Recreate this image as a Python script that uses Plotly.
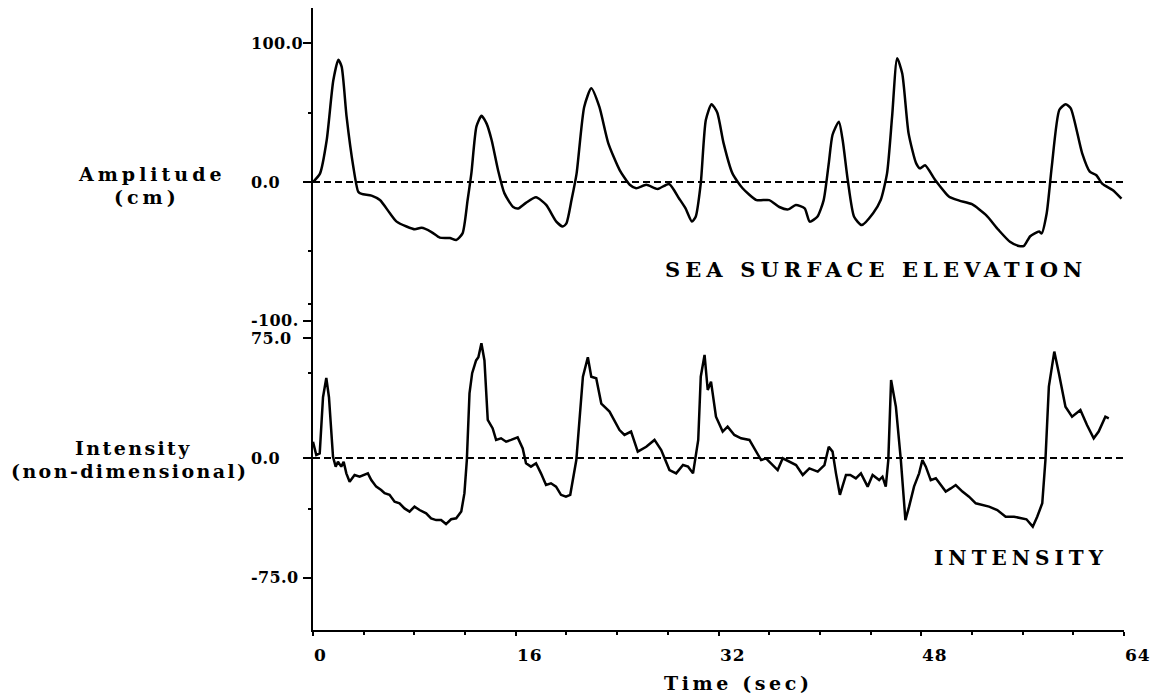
import plotly.graph_objects as go

# ---------------- data ----------------
t_sea = [0.0, 0.55, 1.08, 1.6, 2.0, 2.26, 2.65, 3.18, 3.57, 3.84, 4.62, 5.28, 6.07, 6.6, 7.38, 8.04,
         8.56, 9.35, 10.0, 10.8, 11.3, 11.8, 12.2, 12.5, 12.9, 13.3, 13.7, 14.1, 14.6, 15.1, 15.8,
         16.2, 16.8, 17.6, 18.4, 19.2, 19.7, 20.0, 20.4, 20.8, 21.4, 21.96, 22.6, 23.3, 24.2, 25.0,
         25.5, 26.3, 27.2, 28.1, 28.9, 29.4, 29.9, 30.2, 30.6, 31.0, 31.45, 31.9, 32.4, 33.1, 33.9,
         35.0, 36.0, 36.8, 37.5, 38.1, 38.8, 39.2, 39.8, 40.3, 40.7, 41.0, 41.5, 41.8, 42.2, 42.7,
         43.3, 44.2, 44.8, 45.3, 45.7, 46.1, 46.5, 47.0, 47.6, 47.9, 48.3, 49.1, 50.2, 51.0, 52.0,
         53.1, 54.1, 55.0, 55.7, 56.1, 56.6, 57.3, 57.5, 57.9, 58.3, 58.9, 59.4, 59.8, 60.7, 61.3,
         61.8, 62.3, 63.1, 63.8]
v_sea = [0, 6, 30, 73, 88, 83, 47, 11, -7, -8.6, -9.8, -13, -22.5, -28.5, -32, -34,
         -33, -36, -40, -40.3, -41.7, -37, -13, 6.4, 40, 47.7, 42, 30, 8.6, -8, -18,
         -19, -15, -11, -16.5, -28.5, -32, -29.7, -13, 6, 54, 67.4, 54, 28, 8.6, -2,
         -4.5, -2, -5, -1.4, -12, -19, -28.5, -25, -1, 44.6, 56, 50, 28, 6.2, -4.5,
         -13, -13, -18, -19.7, -16.5, -19, -28.5, -25, -13, 13.4, 34, 43.4, 30, 1.4, -25,
         -31, -22.5, -13, 6.2, 47, 89, 78, 35, 13.4, 9.8, 12, 1.4, -10.6, -13.4, -16,
         -23.7, -34.5, -43, -46, -46, -39, -35.7, -37, -22.5, 11, 52, 56, 53, 20.6, 7.4,
         5, -1.4, -5.8, -12]

t_int = [0.0, 0.26, 0.53, 0.79, 1.05, 1.26, 1.58, 1.79, 1.97, 2.23,
         2.42, 2.63, 2.89, 3.28, 3.68, 4.07, 4.33, 4.6, 4.99, 5.38,
         5.65, 6.04, 6.44, 6.83, 7.22, 7.62, 8.01, 8.41, 8.93, 9.32,
         9.72, 10.11, 10.5, 10.9, 11.3, 11.7, 11.95, 12.14, 12.35, 12.56,
         12.87, 13.05, 13.29, 13.53, 13.79, 14.18, 14.45, 14.84, 15.24, 15.63,
         16.15, 16.55, 16.81, 17.2, 17.6, 17.99, 18.39, 18.78, 19.18, 19.57,
         19.96, 20.3, 20.78, 21.3, 21.69, 21.96, 22.35, 22.75, 23.4, 24.19,
         24.58, 25.1, 25.63, 26.3, 26.95, 27.48, 28.13, 28.66, 29.2, 29.6,
         29.99, 30.4, 30.6, 30.9, 31.15, 31.41, 31.8, 32.33, 32.72, 33.25,
         33.78, 34.44, 34.96, 35.36, 35.75, 36.15, 36.67, 37.07, 37.6, 38.12,
         38.65, 39.17, 39.83, 40.36, 40.7, 41.0, 41.27, 41.58, 42.06, 42.4,
         42.84, 43.24, 43.77, 44.16, 44.68, 44.94, 45.2, 45.4, 45.62, 46.0,
         46.39, 46.75, 47.04, 47.43, 47.83, 48.09, 48.36, 48.75, 49.15, 49.54,
         49.93, 50.33, 50.72, 51.25, 51.77, 52.3, 52.82, 53.35, 54.0, 54.66,
         55.32, 55.84, 56.3, 56.8, 57.15, 57.55, 57.8, 58.07, 58.5, 58.86,
         59.38, 59.9, 60.56, 61.08, 61.61, 62.0, 62.53, 62.8]
v_int = [10.2, 1.9, 2.9, 38, 50, 38, 0.8, -5.4, -2.3, -5.4,
         -2.3, -9.6, -14.8, -10.6, -11.7, -10.6, -9.6, -13.8, -17.9, -20,
         -22, -23, -27.3, -28.3, -31.5, -33.5, -30.4, -32.5, -34.6, -37.7,
         -38.8, -38.8, -41.3, -38.3, -37.7, -33.5, -22, -1.3, 40.4, 53,
         61, 63, 71.7, 61, 23.8, 18.5, 11.3, 12.3, 10.2, 11.3,
         12.9, 6, -3.3, -5.4, -3.3, -9.6, -16.9, -15.8, -17.9, -23,
         -24.2, -23, -1.3, 50.8, 63, 50.8, 49.8, 34, 29, 17.5,
         14.4, 16.5, 4, 7, 11.3, 5, -7.5, -9.6, -4.4, -5.4,
         -9.6, 11.3, 50.8, 64.4, 42.5, 47.7, 25.8, 16.5, 19.6, 14.4,
         12.3, 11.3, 4, -1.3, -0.2, -3.3, -7.5, -0.2, -2.3, -4.4,
         -10.6, -6.5, -8.5, -4.4, 7, 4, -9.6, -23, -10.6, -10.6,
         -12.7, -9.6, -17.9, -10.6, -13.8, -11.7, -17.9, -1.3, 48.8, 32,
         -1.3, -38.8, -30.4, -17.9, -9.6, -1.3, -5.4, -13.8, -12.7, -16.9,
         -21, -19, -16.9, -21, -24.2, -28.3, -29.4, -30.4, -32.5, -36.7,
         -36.7, -37.7, -38.3, -42.9, -36.7, -28.3, -1.3, 44.6, 66.5, 53,
         32, 25.8, 30, 20.6, 12.3, 16.5, 25.8, 24.8]

time_ticks = [0, 16, 32, 48, 64]
sea_ticks = [100, 0, -100]
sea_tick_text = ["100.0", "0.0", "-100."]
int_ticks = [75, 0, -75]
int_tick_text = ["75.0", "0.0", "-75.0"]
zero_line_t = [0, 64]
zero_line_v = [0, 0]

FONT = "DejaVu Serif"


def bold_spaced(text, sp):
    return '<b><span style="letter-spacing:%spx">%s</span></b>' % (sp, text)


fig = go.Figure()

# top panel (sea surface elevation)
fig.add_trace(go.Scatter(x=t_sea, y=v_sea, mode="lines",
                         line=dict(color="black", width=2.5, shape="spline", smoothing=0.6),
                         xaxis="x2", yaxis="y2", showlegend=False, hoverinfo="skip"))
fig.add_trace(go.Scatter(x=zero_line_t, y=zero_line_v, mode="lines",
                         line=dict(color="black", width=1.8, dash="7px,4px"),
                         xaxis="x2", yaxis="y2", showlegend=False, hoverinfo="skip"))
# bottom panel (intensity)
fig.add_trace(go.Scatter(x=t_int, y=v_int, mode="lines", line=dict(color="black", width=2.5),
                         xaxis="x", yaxis="y", showlegend=False, hoverinfo="skip"))
fig.add_trace(go.Scatter(x=zero_line_t, y=zero_line_v, mode="lines",
                         line=dict(color="black", width=1.8, dash="7px,4px"),
                         xaxis="x", yaxis="y", showlegend=False, hoverinfo="skip"))

split = 0.4823

fig.update_layout(
    width=1163, height=696,
    margin=dict(l=313, r=39, t=8, b=66),
    paper_bgcolor="white", plot_bgcolor="white",
    font=dict(family=FONT, color="black"),
    xaxis=dict(domain=[0, 1], range=[0, 64], showline=True, linewidth=2.2, linecolor="black",
               showgrid=False, zeroline=False, ticks="outside", ticklen=4, tickwidth=2,
               tickcolor="black", tickvals=time_ticks, showticklabels=False,
               minor=dict(ticks="outside", ticklen=3, tickwidth=1.5, tickcolor="black", dtick=4)),
    xaxis2=dict(domain=[0, 1], range=[0, 64], anchor="y2", visible=False, matches="x"),
    yaxis=dict(domain=[0, split], range=[-107.5, 80], showline=True, linewidth=2.2,
               linecolor="black", showgrid=False, zeroline=False, ticks="outside", ticklen=8,
               tickwidth=1.5, tickcolor="black", tickvals=int_ticks, showticklabels=False,
               minor=dict(ticks="outside", ticklen=3, tickwidth=1.5, tickcolor="black",
                          tickvals=[53, -32])),
    yaxis2=dict(domain=[split, 1], range=[-106.5, 125.2], anchor="x2", showline=True,
                linewidth=2.2, linecolor="black", showgrid=False, zeroline=False,
                ticks="outside", ticklen=8, tickwidth=1.5, tickcolor="black",
                tickvals=sea_ticks, showticklabels=False,
                minor=dict(ticks="outside", ticklen=3, tickwidth=1.5, tickcolor="black",
                           tickvals=[50, -50, -87.5])),
)

ann = []
tick_font = dict(family=FONT, size=16, color="black")
for v, s in zip(sea_ticks, sea_tick_text):
    ann.append(dict(x=0, xref="paper", xanchor="left", xshift=-64, y=v, yref="y2",
                    yanchor="middle", text=bold_spaced(s, 0.4), showarrow=False,
                    font=tick_font))
for v, s in zip(int_ticks, int_tick_text):
    ann.append(dict(x=0, xref="paper", xanchor="left", xshift=-64, y=v, yref="y",
                    yanchor="middle", text=bold_spaced(s, 0.4), showarrow=False,
                    font=tick_font))
for v in time_ticks:
    ann.append(dict(x=v, xref="x", xanchor="left", xshift=-1, y=0, yref="paper",
                    yanchor="middle", yshift=-25, text=bold_spaced(str(v), 0.8),
                    showarrow=False, font=dict(family=FONT, size=17, color="black")))

lab_font = dict(family=FONT, size=19, color="black")
ann += [
    dict(x=0, xref="paper", xshift=-161, xanchor="center", y=6, yref="y2", yanchor="middle",
         text=bold_spaced("Amplitude", 4), showarrow=False, font=lab_font),
    dict(x=0, xref="paper", xshift=-166, xanchor="center", y=-10.5, yref="y2", yanchor="middle",
         text=bold_spaced("(cm)", 4), showarrow=False, font=lab_font),
    dict(x=0, xref="paper", xshift=-180, xanchor="center", y=6, yref="y", yanchor="middle",
         text=bold_spaced("Intensity", 2.4), showarrow=False, font=lab_font),
    dict(x=0, xref="paper", xshift=-184, xanchor="center", y=-8, yref="y", yanchor="middle",
         text=bold_spaced("(non-dimensional)", 2.4), showarrow=False, font=lab_font),
    dict(x=44.4, xref="x2", xanchor="center", y=-63.3, yref="y2", yanchor="middle",
         text=bold_spaced("SEA SURFACE ELEVATION", 5.1), showarrow=False,
         font=dict(family=FONT, size=21, color="black")),
    dict(x=55.9, xref="x", xanchor="center", y=-62.5, yref="y", yanchor="middle",
         text=bold_spaced("INTENSITY", 5), showarrow=False,
         font=dict(family=FONT, size=20, color="black")),
    dict(x=33.6, xref="x", xanchor="center", y=0, yref="paper", yanchor="middle", yshift=-53,
         text=bold_spaced("Time (sec)", 3.6), showarrow=False,
         font=dict(family=FONT, size=19, color="black")),
]
fig.update_layout(annotations=ann)

fig.write_html("out.html")
